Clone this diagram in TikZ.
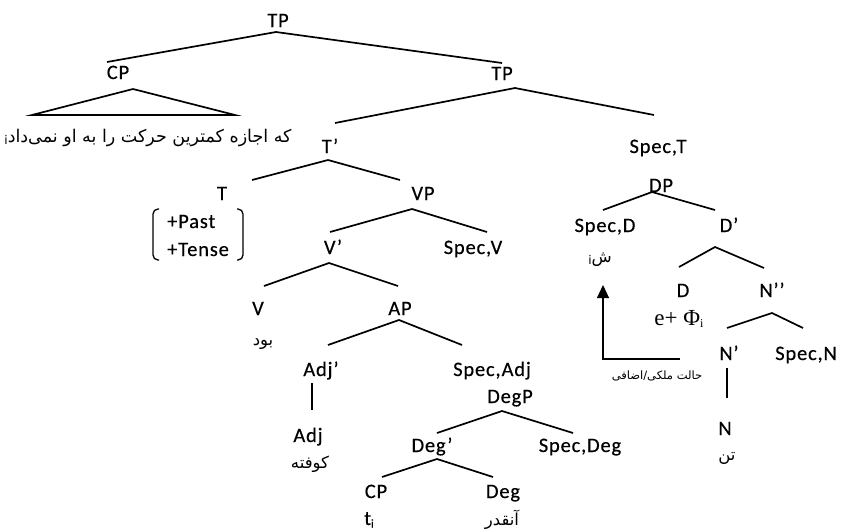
\documentclass[tikz,border=0pt]{standalone}
\usepackage{fontspec}
\setmainfont{Carlito}[LetterSpace=4, FakeBold=0.4]
\newfontfamily\arabicfont[Script=Arabic]{DejaVu Sans}
\newfontfamily\phifont{Liberation Serif}
\TeXXeTstate=1
\usetikzlibrary{arrows.meta}

\newcommand{\idxi}{\raisebox{-2.5pt}{\fontsize{12}{13}\selectfont i}}

\tikzset{
  cat/.style={font=\fontsize{20.5}{25}\selectfont, inner sep=0pt, anchor=base},
  fa/.style={font=\arabicfont\fontsize{16.5}{19}\selectfont, inner sep=0pt, anchor=base},
  branch/.style={line width=1.7pt},
}

\begin{document}
\begin{tikzpicture}[x=1pt, y=-1pt]
\useasboundingbox (0,0) rectangle (841,531);

% Left half
\node[cat] (TP) at (278,27) {TP};
\node[cat] (CP) at (118,79) {CP};
\node[fa, font=\arabicfont\fontsize{17.5}{20}\selectfont] (CPtext) at (148,142) {\idxi\beginR که اجازه کمترین حرکت را به او نمی‌داد\endR};
\node[cat] (TP2) at (502,80) {TP};
\node[cat] (Tbar) at (330,153) {T’};
\node[cat] (T) at (222,200) {T};
\node[cat, anchor=base west] (featA) at (167,228) {+Past};
\node[cat, anchor=base west] (featB) at (167,256) {+Tense};
\node[cat] (VP) at (423,200) {VP};
\node[cat] (Vbar) at (333,254) {V’};
\node[cat] (SpecV) at (473,254) {Spec,V};
\node[cat] (V) at (258,315) {V};
\node[fa] (Vword) at (263,345) {\beginR بود\endR};
\node[cat] (AP) at (400,315) {AP};
\node[cat] (Adjbar) at (321,376) {Adj’};
\node[cat] (SpecAdj) at (492,376) {Spec,Adj};
\node[cat] (DegP) at (510,403) {DegP};
\node[cat] (Adj) at (308,442) {Adj};
\node[fa] (Adjword) at (310,468) {\beginR کوفته\endR};
\node[cat] (Degbar) at (432,452) {Deg’};
\node[cat] (SpecDeg) at (580,452) {Spec,Deg};
\node[cat] (CPt) at (376,498) {CP};
\node[cat] (trace) at (369,525) {t\idxi};
\node[cat] (Deg) at (503,498) {Deg};
\node[fa] (Degword) at (502,525) {\beginR آنقدر\endR};

% Right half
\node[cat] (SpecT) at (658,153) {Spec,T};
\node[cat] (DP) at (661,192) {DP};
\node[cat] (SpecD) at (605,232) {Spec,D};
\node[cat] (Dbar) at (729,232) {D’};
\node[fa] (clitic) at (600,262) {\idxi\beginR ش\endR};
\node[cat] (D) at (683,297) {D};
\node[cat] (Nbarbar) at (772,297) {N’’};
\node[cat] (empty) at (679,325) {\phifont\fontsize{23}{26}\selectfont e+ Φ\idxi};
\node[cat] (Nbar) at (729,360) {N’};
\node[cat] (SpecN) at (806,360) {Spec,N};
\node[cat] (N) at (725,435) {N};
\node[fa] (Nword) at (727,460) {\beginR تن\endR};
\node[fa, font=\arabicfont\fontsize{11.5}{13}\selectfont] (case) at (657,379) {\beginR حالت ملکی/اضافی\endR};

% branch points
\foreach \n/\x/\y in {TP-a/276/32, CP-t/107/62, TP2-t/502/63,
    CP-a/133/89, CP-l/32/115, CP-r/235/115,
    TP2-a/515/88, Tbar-t/335/123, SpecT-t/654/115,
    Tbar-a/328/160, T-t/252/180, VP-t/400/180,
    VP-a/412/209, Vbar-t/330/232, SpecV-t/487/232,
    Vbar-a/329/263, V-t/264/286, AP-t/398/286,
    AP-a/399/320, Adjbar-t/328/345, SpecAdj-t/462/345,
    Adjbar-b/312/383, Adj-t/312/410,
    DegP-a/502/411, Degbar-t/437/433, SpecDeg-t/573/433,
    Degbar-a/437/459, CPt-t/382/477, Deg-t/493/477,
    DP-a/652/192, SpecD-t/603/210, Dbar-t/715/210,
    Dbar-a/715/247, D-t/679/267, Nbarbar-t/764/268,
    Nbarbar-a/772/313, Nbar-t/727/328, SpecN-t/803/328,
    Nbar-b/727/368, N-t/727/398,
    case-e/680/359, case-c/603/359, SpecD-b/603/285}
  \coordinate (\n) at (\x,\y);

% tree lines
\draw[branch] (CP-t) -- (TP-a) -- (TP2-t);
\draw[branch] (CP-l) -- (CP-a) -- (CP-r) -- cycle;
\draw[branch] (Tbar-t) -- (TP2-a) -- (SpecT-t);
\draw[branch] (T-t) -- (Tbar-a) -- (VP-t);
\draw[branch] (Vbar-t) -- (VP-a) -- (SpecV-t);
\draw[branch] (V-t) -- (Vbar-a) -- (AP-t);
\draw[branch] (Adjbar-t) -- (AP-a) -- (SpecAdj-t);
\draw[branch] (Adjbar-b) -- (Adj-t);
\draw[branch] (Degbar-t) -- (DegP-a) -- (SpecDeg-t);
\draw[branch] (CPt-t) -- (Degbar-a) -- (Deg-t);
\draw[branch] (SpecD-t) -- (DP-a) -- (Dbar-t);
\draw[branch] (D-t) -- (Dbar-a) -- (Nbarbar-t);
\draw[branch] (Nbar-t) -- (Nbarbar-a) -- (SpecN-t);
\draw[branch] (Nbar-b) -- (N-t);

% feature brackets
\draw[line width=1.3pt, rounded corners=5pt] (159,209) -- (153,209) -- (153,260) -- (159,260);
\draw[line width=1.3pt, rounded corners=5pt] (237,209) -- (243,209) -- (243,260) -- (237,260);

% case arrow
\draw[line width=1.2pt, -{Triangle[length=13pt, width=12pt]}] (case-e) -- (case-c) -- (SpecD-b);

\end{tikzpicture}
\end{document}
